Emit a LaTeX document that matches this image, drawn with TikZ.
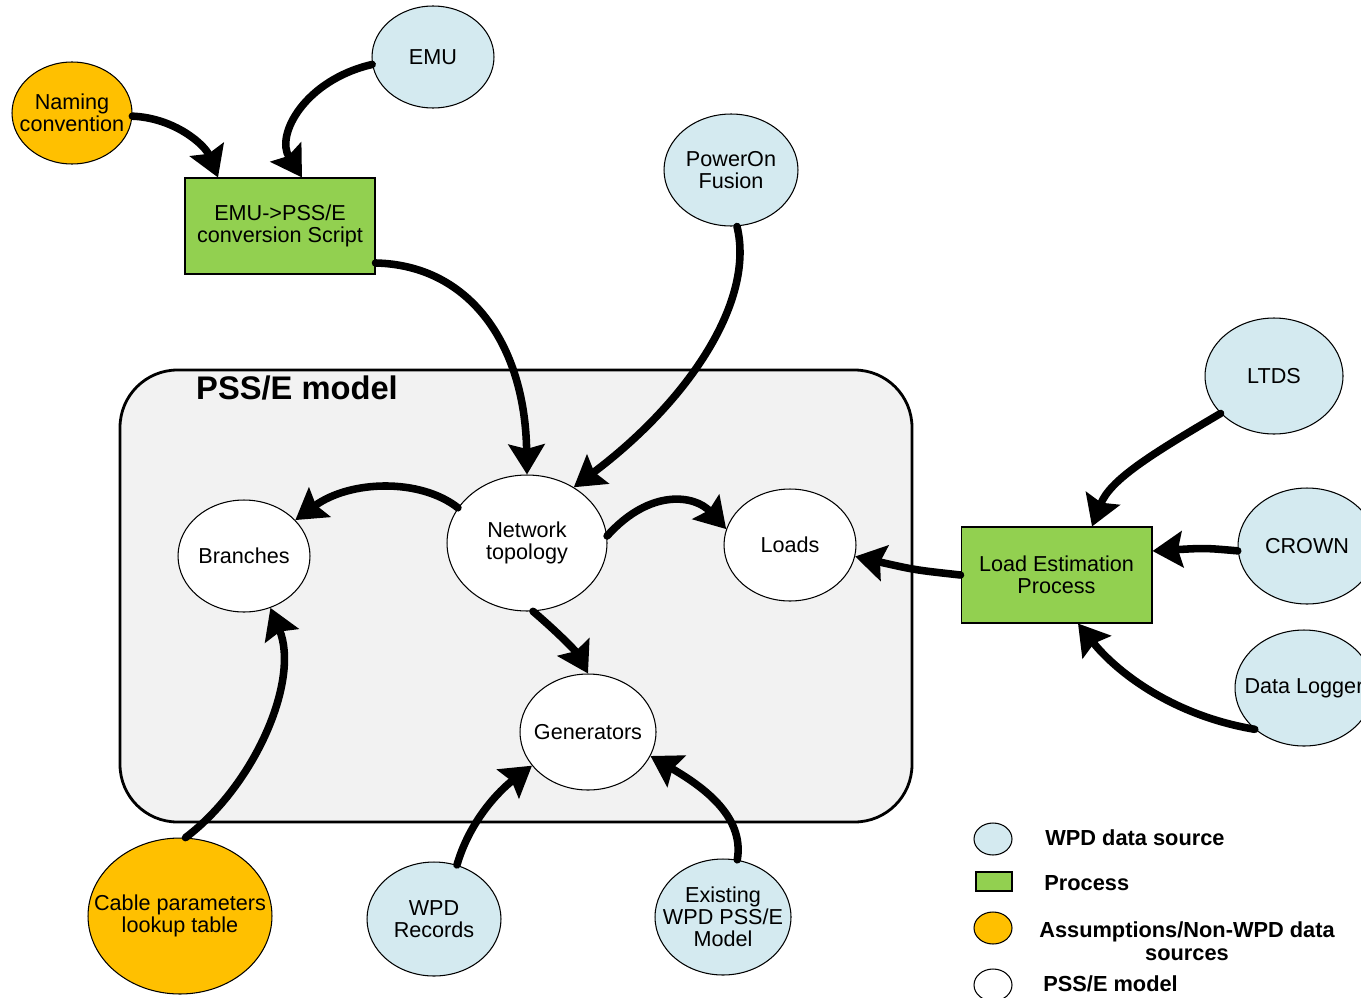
\documentclass[tikz,border=0pt]{standalone}
\usepackage{fontspec}
\setmainfont{Liberation Sans}
\usetikzlibrary{shapes.geometric,arrows.meta}
\definecolor{wpdblue}{HTML}{D4EAF0}
\definecolor{assumorange}{HTML}{FFC000}
\definecolor{procgreen}{HTML}{92D050}
\definecolor{modelgray}{HTML}{F2F2F2}
\tikzset{
  base/.style={draw=black, line width=0.6pt, inner sep=0pt},
  src/.style={base, ellipse, fill=wpdblue},
  assum/.style={base, ellipse, fill=assumorange},
  pss/.style={base, ellipse, fill=white},
  proc/.style={base, rectangle, fill=procgreen},
  lbl/.style={align=center, inner sep=0pt, font=\fontsize{12.3}{12.6}\selectfont},
  flow/.style={line width=4.3pt, line cap=round,
    -{Stealth[length=0.6cm, width=0.72cm, inset=0.09cm]}},
  legtext/.style={anchor=west, font=\fontsize{12.4}{12.8}\selectfont\bfseries, inner sep=0pt},
}
\begin{document}
\begin{tikzpicture}[x=0.02cm, y=-0.02cm]
\useasboundingbox (0,0) rectangle (1361,997);
\clip (0,0) rectangle (1361,997);
\fill[white] (0,0) rectangle (1361,997);

% PSS/E model container
\draw[line width=1.6pt, fill=modelgray, rounded corners=1.15cm] (120,370) rectangle (912,822);
\node[anchor=center, font=\fontsize{18.6}{20}\selectfont\bfseries, inner sep=0pt] (title) at (297,388) {PSS/E model};

% nodes
\node[assum, minimum width=2.4cm, minimum height=2.04cm] (nam) at (72,113) {};
\node[lbl] at (nam) {Naming\\convention};
\node[src, minimum width=2.44cm, minimum height=2.04cm] (emu) at (433,57) {};
\node[lbl] at (emu) {EMU};
\node[proc, minimum width=3.8cm, minimum height=1.92cm] (conv) at (280,226) {};
\node[lbl] at (conv) {EMU->PSS/E\\conversion Script};
\node[src, minimum width=2.68cm, minimum height=2.24cm] (pof) at (731,170) {};
\node[lbl] at (pof) {PowerOn\\Fusion};
\node[src, minimum width=2.76cm, minimum height=2.32cm] (ltds) at (1274,376) {};
\node[lbl] at (ltds) {LTDS};
\node[src, minimum width=2.76cm, minimum height=2.32cm] (crown) at (1307,546) {};
\node[lbl] at (crown) {CROWN};
\node[src, minimum width=2.76cm, minimum height=2.32cm] (dl) at (1304,688) {};
\node[lbl] at (dl) {Data Logger};
\node[proc, minimum width=3.82cm, minimum height=1.92cm] (lep) at (1056.5,575) {};
\node[lbl] at (lep) {Load Estimation\\Process};
\node[pss, minimum width=3.2cm, minimum height=2.72cm] (nt) at (527,543) {};
\node[lbl] at (nt) {Network\\topology};
\node[pss, minimum width=2.64cm, minimum height=2.24cm] (br) at (244,556) {};
\node[lbl] at (br) {Branches};
\node[pss, minimum width=2.64cm, minimum height=2.24cm] (lo) at (790,545) {};
\node[lbl] at (lo) {Loads};
\node[pss, minimum width=2.72cm, minimum height=2.32cm] (gen) at (588,732) {};
\node[lbl] at (gen) {Generators};
\node[assum, minimum width=3.68cm, minimum height=3.12cm] (cab) at (180,916) {};
\node[lbl] at (cab) {Cable parameters\\lookup table};
\node[src, minimum width=2.68cm, minimum height=2.28cm] (wpd) at (434,919) {};
\node[lbl] at (wpd) {WPD\\Records};
\node[src, minimum width=2.72cm, minimum height=2.32cm] (ex) at (723,917) {};
\node[lbl] at (ex) {Existing\\WPD PSS/E\\Model};

% connectors
\draw[flow] (nam.-3) .. controls (175,118) and (205,145) .. ([xshift=-1.24cm]conv.north);
\draw[flow] (emu.187) .. controls (305,80) and (275,135) .. ([xshift=0.44cm]conv.north);
\draw[flow] ([yshift=-0.74cm]conv.east) .. controls (470,265) and (525,345) .. (nt.north);
\draw[flow] ([xshift=0.12cm]pof.south) .. controls (755,300) and (690,400) .. (nt.50);
\draw[flow] (nt.153) .. controls (420,478) and (350,480) .. (br.35);
\draw[flow] (nt.5) .. controls (650,488) and (695,495) .. (lo.166);
\draw[flow] (nt.-85) .. controls (555,630) and (575,650) .. (gen.north);
\draw[flow] (lep.west) .. controls (915,570) .. (lo.-10);
\draw[flow] (ltds.215) .. controls (1150,455) and (1110,480) .. ([xshift=0.71cm]lep.north);
\draw[flow] (crown.-176) .. controls (1205,548) .. ([yshift=0.48cm]lep.east);
\draw[flow] (dl.220) .. controls (1170,715) and (1115,670) .. ([xshift=0.43cm]lep.south);
\draw[flow] (cab.86) .. controls (255,785) and (300,680) .. (br.-63);
\draw[flow] (wpd.67) .. controls (470,820) and (500,790) .. (gen.211);
\draw[flow] (ex.76) .. controls (745,815) and (700,785) .. (gen.339);

% legend
\node[src, minimum width=0.76cm, minimum height=0.64cm] (lg1) at (993,839) {};
\node[proc, minimum width=0.72cm, minimum height=0.38cm] (lg2) at (994,881.5) {};
\node[assum, minimum width=0.76cm, minimum height=0.64cm] (lg3) at (993,928) {};
\node[pss, minimum width=0.76cm, minimum height=0.64cm] (lg4) at (993,985) {};
\node[legtext] (lt1) at (1045,838) {WPD data source};
\node[legtext] (lt2) at (1044,883) {Process};
\node[legtext, anchor=center, align=center] (lt3) at (1187,941) {Assumptions/Non-WPD data\\sources};
\node[legtext] (lt4) at (1043,984) {PSS/E model};
\end{tikzpicture}
\end{document}
